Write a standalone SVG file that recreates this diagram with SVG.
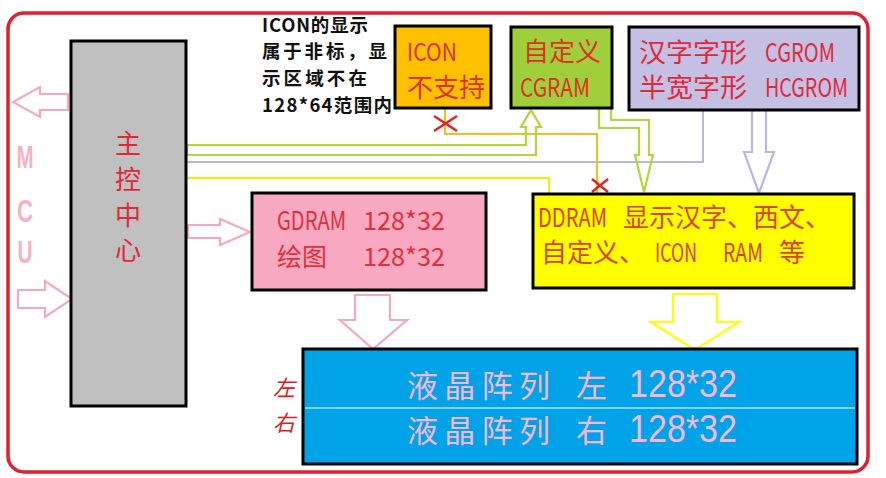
<svg xmlns="http://www.w3.org/2000/svg" width="886" height="478" viewBox="0 0 886 478">
<defs>
<style>
.box{stroke:#000;stroke-width:3}
.cn{font-family:"Noto Sans CJK SC","Liberation Sans",sans-serif}
.red{fill:#e0283a}
.hollow{fill:none;stroke-width:2.2;stroke-linejoin:miter}
.pink{stroke:#f4a8c4}
.green{stroke:#b0d838}
.lav{stroke:#b8b8e0}
.ln{fill:none;stroke-width:2}
.x{stroke:#e82020;stroke-width:2.5}
.note{font-weight:bold;font-size:18.5px;fill:#111}
.lcd{fill:#f4b8dc}
</style>
</defs>
<rect width="886" height="478" fill="#fff"/>
<rect x="8" y="13" width="860" height="459" rx="16" fill="none" stroke="#e02030" stroke-width="3.5"/>

<g id="connectors">
<polygon class="hollow pink" points="13,102 40,87 40,94 68,94 68,110 40,110 40,117"/>
<polygon class="hollow pink" points="18,290 45,290 45,281 72,299 45,317 45,308 18,308"/>
<polygon class="hollow pink" points="188,225 220,225 220,219 250,232 220,245 220,238 188,238"/>
<polygon class="hollow pink" points="355,295 390,295 390,320 407,320 373,349 340,320 355,320"/>
<polygon class="hollow" stroke="#ffff00" stroke-width="2.5" points="673,294 717,294 717,322 739,322 695,350 651,322 673,322"/>
<polygon class="hollow lav" points="752,110 766,110 766,152 774,152 759,193 744,152 752,152"/>
<polyline class="ln lav" points="186,162 703,162 703,110"/>
<polyline class="ln" stroke="#f0f000" points="186,178 549,178 549,194"/>
<polyline class="ln" stroke="#f0c020" points="445,109 445,134 597,134 597,194"/>
<path class="hollow green" d="M187,145 H526 V127 H521 L531,110 L541,127 H536 V155 H187 Z"/>
<path class="hollow green" d="M599,108 V128 H639 V155 H635 L644,192 L653,155 H649 V120 H611 V108"/>
<g class="x">
<line x1="434" y1="116" x2="457" y2="131"/><line x1="434" y1="131" x2="457" y2="116"/>
<line x1="592" y1="179" x2="608" y2="192"/><line x1="592" y1="192" x2="608" y2="179"/>
</g>
</g>

<g id="mcu">
<text x="25" y="168" text-anchor="middle" font-family="Liberation Sans,sans-serif" font-weight="bold" font-size="31" fill="#f8b0c8" textLength="17" lengthAdjust="spacingAndGlyphs">M</text>
<text x="25" y="222" text-anchor="middle" font-family="Liberation Sans,sans-serif" font-weight="bold" font-size="31" fill="#f8b0c8" textLength="16" lengthAdjust="spacingAndGlyphs">C</text>
<text x="25" y="263" text-anchor="middle" font-family="Liberation Sans,sans-serif" font-weight="bold" font-size="31" fill="#f8b0c8" textLength="15" lengthAdjust="spacingAndGlyphs">U</text>
</g>

<g id="main">
<rect class="box" x="71" y="41" width="115" height="365" fill="#c0c0c0"/>
<text class="cn red" font-size="26" text-anchor="middle"><tspan x="128" y="153">主</tspan><tspan x="128" y="189">控</tspan><tspan x="128" y="225">中</tspan><tspan x="128" y="260">心</tspan></text>
</g>

<g id="note" class="cn">
<text class="note" x="262" y="31.5" textLength="106" lengthAdjust="spacing">ICON的显示</text>
<text class="note" x="262" y="58.3" textLength="125" lengthAdjust="spacing">属于非标，显</text>
<text class="note" x="262" y="85.1" textLength="105" lengthAdjust="spacing">示区域不在</text>
<text class="note" x="262" y="111.8" textLength="130" lengthAdjust="spacing">128*64范围内</text>
</g>

<g id="icon">
<rect class="box" x="395" y="26" width="96" height="82" fill="#ffc000"/>
<text class="cn" x="407" y="61" font-size="24" fill="#e03020" textLength="50" lengthAdjust="spacingAndGlyphs">ICON</text>
<text class="cn" x="407" y="97" font-size="26" fill="#e03020">不支持</text>
</g>

<g id="cgram">
<rect class="box" x="511" y="27" width="101" height="81" fill="#9fd03c"/>
<text class="cn" x="523" y="61" font-size="26" fill="#e03020">自定义</text>
<text class="cn" x="520" y="97" font-size="26" fill="#e03020" textLength="70" lengthAdjust="spacingAndGlyphs">CGRAM</text>
</g>

<g id="cgrom">
<rect class="box" x="629" y="27" width="230" height="83" fill="#c4c0e4"/>
<g class="cn red" font-size="26">
<text x="639" y="62" textLength="108" lengthAdjust="spacingAndGlyphs">汉字字形</text>
<text x="765" y="62" textLength="70" lengthAdjust="spacingAndGlyphs">CGROM</text>
<text x="639" y="97" textLength="108" lengthAdjust="spacingAndGlyphs">半宽字形</text>
<text x="765" y="97" textLength="83" lengthAdjust="spacingAndGlyphs">HCGROM</text>
</g>
</g>

<g id="gdram">
<rect class="box" x="252" y="193" width="234" height="97" fill="#f8a8c0"/>
<g class="cn" font-size="25" fill="#e0303c">
<text x="277" y="230" textLength="69" lengthAdjust="spacingAndGlyphs">GDRAM</text>
<text x="363" y="230" textLength="82" lengthAdjust="spacingAndGlyphs">128*32</text>
<text x="277" y="266">绘图</text>
<text x="363" y="266" textLength="82" lengthAdjust="spacingAndGlyphs">128*32</text>
</g>
</g>

<g id="ddram">
<rect class="box" x="533" y="194" width="321" height="94" fill="#ffff00"/>
<g class="cn" font-size="26" fill="#e0400a">
<text x="538" y="227" textLength="69" lengthAdjust="spacingAndGlyphs">DDRAM</text>
<text x="623" y="227">显示汉字、西文、</text>
<text x="541" y="262">自定义、</text>
<text x="655" y="262" textLength="42" lengthAdjust="spacingAndGlyphs">ICON</text>
<text x="723" y="262" textLength="40" lengthAdjust="spacingAndGlyphs">RAM</text>
<text x="779" y="262">等</text>
</g>
</g>

<g id="lcd">
<rect class="box" x="303" y="349" width="554" height="115" fill="#00a2e8"/>
<line x1="305" y1="408" x2="855" y2="408" stroke="#ffffff" stroke-width="1.2"/>
<g class="cn lcd" font-size="31">
<text x="407" y="397" textLength="143" lengthAdjust="spacing">液晶阵列</text>
<text x="576" y="397">左</text>
<text x="407" y="442" textLength="143" lengthAdjust="spacing">液晶阵列</text>
<text x="576" y="442">右</text>
</g>
<g class="lcd" font-family="Liberation Sans,sans-serif" font-size="38">
<text x="629" y="397" textLength="108" lengthAdjust="spacingAndGlyphs">128*32</text>
<text x="629" y="442" textLength="108" lengthAdjust="spacingAndGlyphs">128*32</text>
</g>
</g>

<g id="lr-labels" class="cn" font-size="22" font-style="italic" fill="#e02020">
<text x="273" y="396">左</text>
<text x="273" y="431">右</text>
</g>
</svg>
